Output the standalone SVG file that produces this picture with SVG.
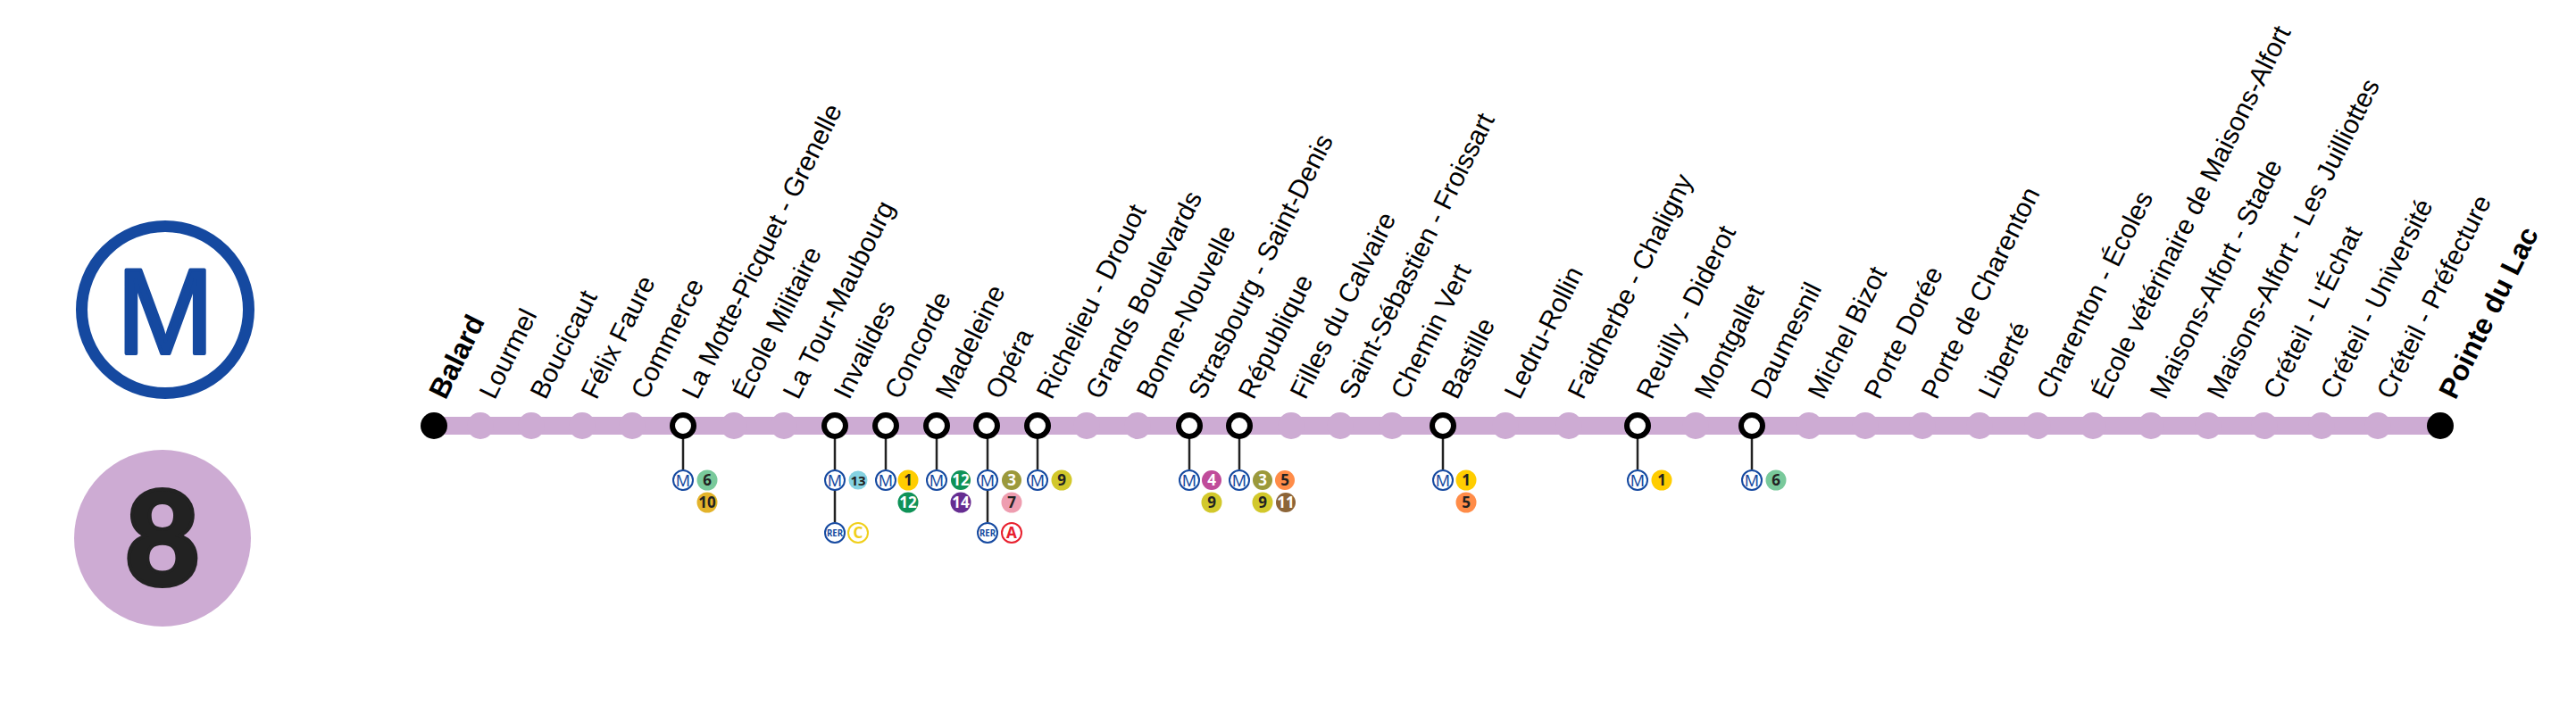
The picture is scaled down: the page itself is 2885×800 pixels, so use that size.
<svg xmlns="http://www.w3.org/2000/svg" width="2885" height="800" viewBox="0 0 2885 800">
<style>
text{font-family:"Liberation Sans",Arial,sans-serif}
.l{font-size:29.800px;fill:#000}
.t{font-size:32px;font-weight:700;fill:#000}
.s{fill:#cdabd3}
.x{fill:#fff;stroke:#000;stroke-width:6}
.e{fill:#000}
.st{stroke:#222;stroke-width:2.5;fill:none}
.m{fill:#fff;stroke:#1549a0;stroke-width:2}
.mt{font-family:"Noto Sans","Liberation Sans",sans-serif;font-size:18px;fill:#1549a0;text-anchor:middle}
.rt{font-family:"Noto Sans","Liberation Sans",sans-serif;font-size:11px;font-weight:700;fill:#1549a0;text-anchor:middle}
.d{font-family:"Noto Sans","Liberation Sans",sans-serif;font-size:17px;font-weight:700;fill:#222;text-anchor:middle}
.l6{fill:#79c99b}.l10{fill:#e3b32a}.l13{fill:#85d2e1}.l1{fill:#ffcd00}.l12{fill:#0f9257}.l14{fill:#662d91}.l3{fill:#9b993b}.l7{fill:#ee9db0}.l9{fill:#d2c82b}.l4{fill:#c04c9a}.l5{fill:#ff8c48}.l11{fill:#8d6538}
</style>
<g id="logo-metro">
<circle cx="185" cy="347" r="93.500" fill="#fff" stroke="#1549a0" stroke-width="13"/>
<text transform="translate(185 396) scale(.96 1)" text-anchor="middle" font-size="136" fill="#1549a0" stroke="#1549a0" stroke-width="4" stroke-linejoin="round" style="font-family:'Liberation Sans',sans-serif">M</text>
</g>
<g id="logo-line">
<circle cx="182" cy="603" r="99" fill="#cdabd3"/>
<text x="182" y="656" text-anchor="middle" font-size="147" font-weight="900" fill="#222" stroke="#222" stroke-width="4" style="font-family:Lato,sans-serif">8</text>
</g>
<g id="connectors">
<rect class="s" x="486" y="467" width="2247" height="20"/>
<path class="st" d="M765 477V526M935 477V585M992 477V526M1049 477V526M1106 477V585M1162 477V526M1332 477V526M1388 477V526M1616 477V526M1834 477V526M1962 477V526"/>
</g>
<g id="balard"><circle class="e" cx="486" cy="477" r="15"/><text class="t" transform="translate(499 449) rotate(-63.500)">Balard</text></g>
<g id="lourmel"><circle class="s" cx="538" cy="477" r="15"/><text class="l" transform="translate(554 449) rotate(-63.500)">Lourmel</text></g>
<g id="boucicaut"><circle class="s" cx="595" cy="477" r="15"/><text class="l" transform="translate(611 449) rotate(-63.500)">Boucicaut</text></g>
<g id="felix-faure"><circle class="s" cx="652" cy="477" r="15"/><text class="l" transform="translate(668 449) rotate(-63.500)">Félix Faure</text></g>
<g id="commerce"><circle class="s" cx="708" cy="477" r="15"/><text class="l" transform="translate(724 449) rotate(-63.500)">Commerce</text></g>
<g id="la-motte-picquet"><circle class="x" cx="765" cy="477" r="12"/><text class="l" transform="translate(781 449) rotate(-63.500)">La Motte-Picquet - Grenelle</text>
<circle class="m" cx="765" cy="538" r="11"/><text class="mt" x="765" y="544.500">M</text>
<circle class="l6" cx="792" cy="538" r="11.500"/><text class="d" x="792" y="544">6</text>
<circle class="l10" cx="792" cy="563" r="11.500"/><text class="d" x="792" y="569">10</text></g>
<g id="ecole-militaire"><circle class="s" cx="822" cy="477" r="15"/><text class="l" transform="translate(838 449) rotate(-63.500)">École Militaire</text></g>
<g id="la-tour-maubourg"><circle class="s" cx="878" cy="477" r="15"/><text class="l" transform="translate(894 449) rotate(-63.500)">La Tour-Maubourg</text></g>
<g id="invalides"><circle class="x" cx="935" cy="477" r="12"/><text class="l" transform="translate(951 449) rotate(-63.500)">Invalides</text>
<circle class="m" cx="935" cy="538" r="11"/><text class="mt" x="935" y="544.500">M</text>
<circle class="l13" cx="961" cy="538" r="10.500"/><text class="d" x="961" y="544" style="font-size:15px">13</text>
<circle class="m" cx="935" cy="597" r="11"/><text class="rt" x="935" y="601" textLength="18" lengthAdjust="spacingAndGlyphs">RER</text>
<circle cx="961" cy="597" r="11" fill="#fff" stroke="#f0cf1a" stroke-width="2"/><text class="d" x="961" y="603" style="fill:#f0cf1a">C</text></g>
<g id="concorde"><circle class="x" cx="992" cy="477" r="12"/><text class="l" transform="translate(1008 449) rotate(-63.500)">Concorde</text>
<circle class="m" cx="992" cy="538" r="11"/><text class="mt" x="992" y="544.500">M</text>
<circle class="l1" cx="1017" cy="538" r="11.500"/><text class="d" x="1017" y="544">1</text>
<circle class="l12" cx="1017" cy="563" r="11.500"/><text class="d" x="1017" y="569" style="fill:#fff">12</text></g>
<g id="madeleine"><circle class="x" cx="1049" cy="477" r="12"/><text class="l" transform="translate(1065 449) rotate(-63.500)">Madeleine</text>
<circle class="m" cx="1049" cy="538" r="11"/><text class="mt" x="1049" y="544.500">M</text>
<circle class="l12" cx="1076" cy="538" r="11"/><text class="d" x="1076" y="544" style="fill:#fff">12</text>
<circle class="l14" cx="1076" cy="563" r="11.500"/><text class="d" x="1076" y="569" style="fill:#fff">14</text></g>
<g id="opera"><circle class="x" cx="1105" cy="477" r="12"/><text class="l" transform="translate(1121 449) rotate(-63.500)">Opéra</text>
<circle class="m" cx="1106" cy="538" r="11"/><text class="mt" x="1106" y="544.500">M</text>
<circle class="l3" cx="1133" cy="538" r="11"/><text class="d" x="1133" y="544" style="fill:#fff">3</text>
<circle class="l7" cx="1133" cy="563" r="11.500"/><text class="d" x="1133" y="569">7</text>
<circle class="m" cx="1106" cy="597" r="11"/><text class="rt" x="1106" y="601" textLength="18" lengthAdjust="spacingAndGlyphs">RER</text>
<circle cx="1133" cy="597" r="11" fill="#fff" stroke="#e8202e" stroke-width="2"/><text class="d" x="1133" y="603" style="fill:#e8202e">A</text></g>
<g id="richelieu-drouot"><circle class="x" cx="1162" cy="477" r="12"/><text class="l" transform="translate(1178 449) rotate(-63.500)">Richelieu - Drouot</text>
<circle class="m" cx="1162" cy="538" r="11"/><text class="mt" x="1162" y="544.500">M</text>
<circle class="l9" cx="1189" cy="538" r="11.500"/><text class="d" x="1189" y="544">9</text></g>
<g id="grands-boulevards"><circle class="s" cx="1217" cy="477" r="15"/><text class="l" transform="translate(1233 449) rotate(-63.500)">Grands Boulevards</text></g>
<g id="bonne-nouvelle"><circle class="s" cx="1274" cy="477" r="15"/><text class="l" transform="translate(1290 449) rotate(-63.500)">Bonne-Nouvelle</text></g>
<g id="strasbourg-saint-denis"><circle class="x" cx="1332" cy="477" r="12"/><text class="l" transform="translate(1348 449) rotate(-63.500)">Strasbourg - Saint-Denis</text>
<circle class="m" cx="1332" cy="538" r="11"/><text class="mt" x="1332" y="544.500">M</text>
<circle class="l4" cx="1357" cy="538" r="11"/><text class="d" x="1357" y="544" style="fill:#fff">4</text>
<circle class="l9" cx="1357" cy="563" r="11.500"/><text class="d" x="1357" y="569">9</text></g>
<g id="republique"><circle class="x" cx="1388" cy="477" r="12"/><text class="l" transform="translate(1404 449) rotate(-63.500)">République</text>
<circle class="m" cx="1388" cy="538" r="11"/><text class="mt" x="1388" y="544.500">M</text>
<circle class="l3" cx="1414" cy="538" r="11"/><text class="d" x="1414" y="544" style="fill:#fff">3</text>
<circle class="l5" cx="1439" cy="538" r="11"/><text class="d" x="1439" y="544">5</text>
<circle class="l9" cx="1414" cy="563" r="11.500"/><text class="d" x="1414" y="569">9</text>
<circle class="l11" cx="1440" cy="563" r="11"/><text class="d" x="1440" y="569" style="fill:#fff">11</text></g>
<g id="filles-du-calvaire"><circle class="s" cx="1446" cy="477" r="15"/><text class="l" transform="translate(1462 449) rotate(-63.500)">Filles du Calvaire</text></g>
<g id="saint-sebastien-froissart"><circle class="s" cx="1501" cy="477" r="15"/><text class="l" transform="translate(1517 449) rotate(-63.500)">Saint-Sébastien - Froissart</text></g>
<g id="chemin-vert"><circle class="s" cx="1559" cy="477" r="15"/><text class="l" transform="translate(1575 449) rotate(-63.500)">Chemin Vert</text></g>
<g id="bastille"><circle class="x" cx="1616" cy="477" r="12"/><text class="l" transform="translate(1632 449) rotate(-63.500)">Bastille</text>
<circle class="m" cx="1616" cy="538" r="11"/><text class="mt" x="1616" y="544.500">M</text>
<circle class="l1" cx="1642" cy="538" r="11.500"/><text class="d" x="1642" y="544">1</text>
<circle class="l5" cx="1642" cy="563" r="11.500"/><text class="d" x="1642" y="569">5</text></g>
<g id="ledru-rollin"><circle class="s" cx="1686" cy="477" r="15"/><text class="l" transform="translate(1702 449) rotate(-63.500)">Ledru-Rollin</text></g>
<g id="faidherbe-chaligny"><circle class="s" cx="1757" cy="477" r="15"/><text class="l" transform="translate(1773 449) rotate(-63.500)">Faidherbe - Chaligny</text></g>
<g id="reuilly-diderot"><circle class="x" cx="1834" cy="477" r="12"/><text class="l" transform="translate(1850 449) rotate(-63.500)">Reuilly - Diderot</text>
<circle class="m" cx="1834" cy="538" r="11"/><text class="mt" x="1834" y="544.500">M</text>
<circle class="l1" cx="1861" cy="538" r="11.500"/><text class="d" x="1861" y="544">1</text></g>
<g id="montgallet"><circle class="s" cx="1899" cy="477" r="15"/><text class="l" transform="translate(1915 449) rotate(-63.500)">Montgallet</text></g>
<g id="daumesnil"><circle class="x" cx="1962" cy="477" r="12"/><text class="l" transform="translate(1978 449) rotate(-63.500)">Daumesnil</text>
<circle class="m" cx="1962" cy="538" r="11"/><text class="mt" x="1962" y="544.500">M</text>
<circle class="l6" cx="1989" cy="538" r="11.500"/><text class="d" x="1989" y="544">6</text></g>
<g id="michel-bizot"><circle class="s" cx="2026" cy="477" r="15"/><text class="l" transform="translate(2042 449) rotate(-63.500)">Michel Bizot</text></g>
<g id="porte-doree"><circle class="s" cx="2089" cy="477" r="15"/><text class="l" transform="translate(2105 449) rotate(-63.500)">Porte Dorée</text></g>
<g id="porte-de-charenton"><circle class="s" cx="2153" cy="477" r="15"/><text class="l" transform="translate(2169 449) rotate(-63.500)">Porte de Charenton</text></g>
<g id="liberte"><circle class="s" cx="2217" cy="477" r="15"/><text class="l" transform="translate(2233 449) rotate(-63.500)">Liberté</text></g>
<g id="charenton-ecoles"><circle class="s" cx="2282" cy="477" r="15"/><text class="l" transform="translate(2298 449) rotate(-63.500)">Charenton - Écoles</text></g>
<g id="ecole-veterinaire"><circle class="s" cx="2344" cy="477" r="15"/><text class="l" transform="translate(2360 449) rotate(-63.500)">École vétérinaire de Maisons-Alfort</text></g>
<g id="maisons-alfort-stade"><circle class="s" cx="2409" cy="477" r="15"/><text class="l" transform="translate(2425 449) rotate(-63.500)">Maisons-Alfort - Stade</text></g>
<g id="maisons-alfort-juilliottes"><circle class="s" cx="2473" cy="477" r="15"/><text class="l" transform="translate(2489 449) rotate(-63.500)">Maisons-Alfort - Les Juilliottes</text></g>
<g id="creteil-echat"><circle class="s" cx="2536" cy="477" r="15"/><text class="l" transform="translate(2552 449) rotate(-63.500)">Créteil - L'Échat</text></g>
<g id="creteil-universite"><circle class="s" cx="2600" cy="477" r="15"/><text class="l" transform="translate(2616 449) rotate(-63.500)">Créteil - Université</text></g>
<g id="creteil-prefecture"><circle class="s" cx="2663" cy="477" r="15"/><text class="l" transform="translate(2679 449) rotate(-63.500)">Créteil - Préfecture</text></g>
<g id="pointe-du-lac"><circle class="e" cx="2733" cy="477" r="15"/><text class="t" transform="translate(2750 449) rotate(-63.500)">Pointe du Lac</text></g>
</svg>
